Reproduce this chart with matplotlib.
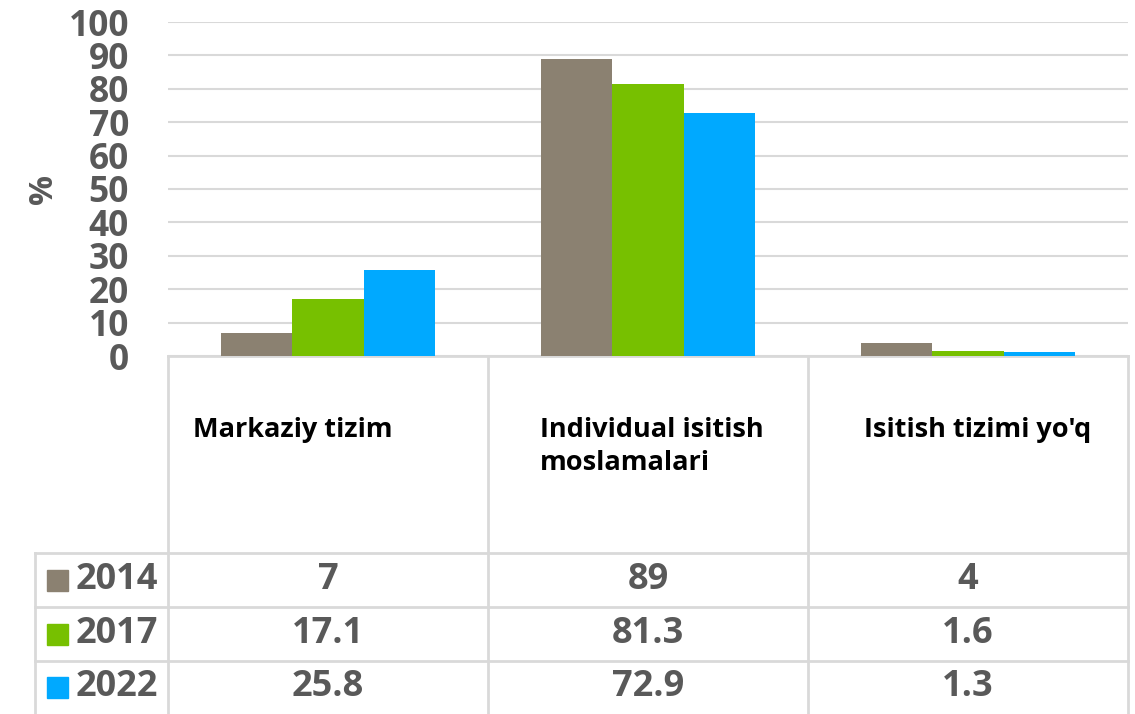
import matplotlib
matplotlib.use("Agg")
import matplotlib.pyplot as plt
import numpy as np

plt.rcParams["font.family"] = ["Open Sans", "DejaVu Sans"]

categories = ["Markaziy tizim", "Individual isitish\nmoslamalari", "Isitish tizimi yo'q"]
years = ["2014", "2017", "2022"]
v2014 = [7, 89, 4]
v2017 = [17.1, 81.3, 1.6]
v2022 = [25.8, 72.9, 1.3]
series = [v2014, v2017, v2022]
colors = ["#8B8171", "#77C000", "#00A9FF"]

W, H = 1135, 714
fig = plt.figure(figsize=(W / 100, H / 100), dpi=100)

# plot area in pixel coords
L, R, T, B = 168, 1128, 22, 356
ax = fig.add_axes([L / W, 1 - B / H, (R - L) / W, (B - T) / H])

x = np.arange(len(categories))
bw = 0.222
for i, vals in enumerate(series):
    ax.bar(x + (i - 1) * bw, vals, width=bw, color=colors[i], zorder=3)

ax.set_xlim(-0.5, len(categories) - 0.5)
ax.set_ylim(0, 100)
ax.set_yticks(range(0, 101, 10))
ax.yaxis.grid(True, color="#D9D9D9", lw=1.5, zorder=0)
ax.set_xticks([])
for s in ["top", "right", "left"]:
    ax.spines[s].set_visible(False)
ax.spines["bottom"].set_color("#D9D9D9")
ax.spines["bottom"].set_linewidth(2)
ax.tick_params(axis="y", length=0, pad=28, labelsize=25.5, labelcolor="#595959")
for t in ax.get_yticklabels():
    t.set_fontweight("bold")
ax.set_ylabel("%", fontsize=24, color="#595959", fontweight="bold")
ax.yaxis.set_label_coords(-0.112, 0.5)

# data table drawn on an overlay in pixel coordinates
ov = fig.add_axes([0, 0, 1, 1], zorder=-1)
ov.set_xlim(0, W)
ov.set_ylim(H, 0)
ov.axis("off")

grid_c = "#D9D9D9"
cols = [L + k * (R - L) / 3 for k in range(4)]
rows = [553, 607, 661, 714]
for cx in cols:
    ov.plot([cx, cx], [B, H], color=grid_c, lw=2)
ov.plot([35, 35], [rows[0], H], color=grid_c, lw=2)
for ry in rows[:3]:
    ov.plot([35, R], [ry, ry], color=grid_c, lw=2)

label_off = [25, 52, 56]
for j, cat in enumerate(categories):
    ov.text(cols[j] + label_off[j], 417, cat, ha="left", va="top",
            fontsize=19.5, fontweight="bold", color="black", linespacing=1.35)

for i, yr in enumerate(years):
    yc = (rows[i] + rows[i + 1]) / 2
    ov.add_patch(plt.Rectangle((47, yc - 10.5), 21, 21, color=colors[i]))
    ov.text(76, yc, yr, ha="left", va="center", fontsize=26,
            fontweight="bold", color="#595959")
    for j in range(len(categories)):
        xc = (cols[j] + cols[j + 1]) / 2
        ov.text(xc, yc, f"{series[i][j]:g}", ha="center", va="center",
                fontsize=26, fontweight="bold", color="#595959")

fig.savefig("out.png", dpi=100)
